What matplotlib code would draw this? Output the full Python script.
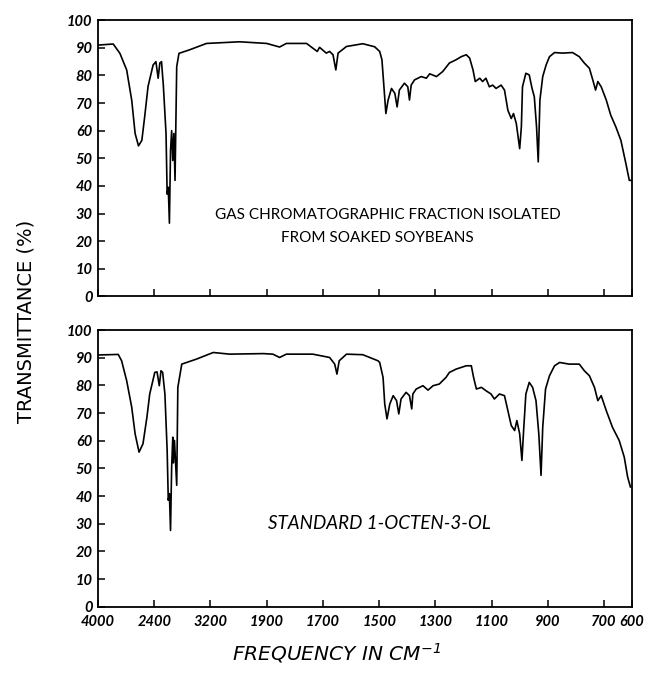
import matplotlib.pyplot as plt

plt.rcParams['mathtext.default'] = 'regular'

# x is in chart position units (one per labelled tick), y is % transmittance
tick_pos = [0, 1, 2, 3, 4, 5, 6, 7, 8, 9, 9.5]
tick_labels = ['4000', '2400', '3200', '1900', '1700', '1500',
               '1300', '1100', '900', '700', '600']
y_ticks = [0, 10, 20, 30, 40, 50, 60, 70, 80, 90, 100]

# top: gas chromatographic fraction
top_x = [0.0, 0.27, 0.39, 0.51, 0.60, 0.66, 0.72, 0.78, 0.83, 0.89, 0.98, 1.03,
         1.07, 1.10, 1.13, 1.15, 1.16, 1.21, 1.23, 1.25, 1.27, 1.29, 1.31, 1.33,
         1.35, 1.37, 1.40, 1.44, 1.63, 1.93, 2.52, 3.00, 3.23, 3.35, 3.71, 3.82,
         3.90, 3.94, 4.06, 4.12, 4.18, 4.23, 4.27, 4.42, 4.71, 4.92, 5.01, 5.05,
         5.09, 5.12, 5.16, 5.22, 5.28, 5.32, 5.36, 5.45, 5.51, 5.54, 5.57, 5.63,
         5.75, 5.84, 5.90, 6.02, 6.13, 6.25, 6.37, 6.46, 6.55, 6.61, 6.67, 6.71,
         6.79, 6.84, 6.90, 6.96, 7.02, 7.08, 7.17, 7.23, 7.29, 7.35, 7.39, 7.44,
         7.50, 7.53, 7.55, 7.61, 7.67, 7.72, 7.76, 7.80, 7.83, 7.86, 7.91, 7.97,
         8.03, 8.12, 8.26, 8.44, 8.56, 8.65, 8.74, 8.80, 8.85, 8.89, 8.95, 9.04,
         9.12, 9.21, 9.30, 9.39, 9.45, 9.49]
top_t = [91.0, 91.4, 88.0, 82.0, 71.0, 59.0, 54.5, 56.5, 65.0, 76.0, 83.8, 85.0,
         79.0, 84.5, 85.0, 79.5, 77.2, 59.0, 37.0, 39.5, 26.5, 52.8, 60.0, 49.2,
         59.0, 42.0, 83.2, 88.0, 89.3, 91.6, 92.2, 91.6, 90.3, 91.6, 91.6, 89.9,
         88.7, 90.2, 88.1, 88.7, 87.5, 82.0, 88.1, 90.5, 91.5, 90.4, 88.7, 85.7,
         74.7, 66.2, 71.1, 75.3, 73.5, 68.6, 74.7, 77.2, 75.9, 71.1, 76.5, 78.4,
         79.6, 79.0, 80.6, 79.6, 81.4, 84.5, 85.7, 86.8, 87.5, 86.3, 82.0, 77.8,
         79.0, 77.8, 79.0, 75.9, 76.5, 75.3, 76.5, 74.7, 67.4, 64.4, 66.2, 62.6,
         53.5, 61.4, 75.9, 80.8, 80.2, 75.3, 72.3, 61.4, 48.7, 71.1, 79.6, 83.8,
         86.8, 88.3, 88.1, 88.3, 86.8, 84.5, 82.6, 78.4, 74.7, 77.8, 75.9, 71.1,
         65.6, 61.4, 56.5, 48.0, 42.0, 42.0]

# bottom: standard 1-octen-3-ol
bot_x = [0.0, 0.36, 0.42, 0.51, 0.60, 0.66, 0.73, 0.80, 0.87, 0.92, 1.01, 1.05,
         1.09, 1.12, 1.15, 1.19, 1.23, 1.25, 1.27, 1.29, 1.31, 1.33, 1.34, 1.36,
         1.40, 1.42, 1.49, 1.75, 2.05, 2.34, 2.94, 3.11, 3.23, 3.35, 3.82, 4.12,
         4.21, 4.25, 4.29, 4.42, 4.71, 4.98, 5.01, 5.07, 5.10, 5.14, 5.19, 5.25,
         5.31, 5.35, 5.39, 5.48, 5.54, 5.58, 5.60, 5.66, 5.78, 5.87, 5.96, 6.07,
         6.19, 6.25, 6.37, 6.46, 6.55, 6.64, 6.68, 6.73, 6.82, 6.90, 6.99, 7.05,
         7.14, 7.23, 7.29, 7.35, 7.41, 7.45, 7.50, 7.54, 7.57, 7.61, 7.67, 7.73,
         7.79, 7.84, 7.88, 7.91, 7.96, 8.03, 8.12, 8.21, 8.38, 8.56, 8.65, 8.74,
         8.83, 8.89, 8.95, 9.04, 9.15, 9.27, 9.36, 9.42, 9.47]
bot_t = [91.0, 91.2, 88.9, 81.7, 72.1, 62.5, 55.9, 58.9, 68.5, 76.9, 84.7, 84.9,
         79.9, 85.3, 84.7, 76.9, 56.5, 38.5, 40.9, 27.6, 50.5, 61.3, 52.0, 60.1,
         43.9, 79.3, 87.7, 89.5, 91.9, 91.3, 91.5, 91.3, 90.1, 91.3, 91.3, 90.1,
         87.7, 84.1, 88.9, 91.3, 91.1, 88.9, 88.3, 82.9, 73.3, 67.9, 73.3, 76.3,
         74.5, 69.7, 75.1, 77.5, 76.3, 71.5, 76.9, 78.7, 79.9, 78.3, 79.9, 80.5,
         82.9, 84.7, 85.9, 86.5, 87.1, 87.1, 82.9, 78.7, 79.3, 78.1, 76.9, 75.1,
         76.9, 76.3, 70.9, 65.5, 63.7, 67.3, 62.5, 52.9, 63.7, 76.9, 81.1, 79.3,
         74.5, 62.5, 47.5, 64.9, 78.7, 83.5, 87.1, 88.3, 87.7, 87.7, 85.3, 83.5,
         79.3, 74.5, 76.3, 70.9, 64.9, 60.1, 54.1, 46.9, 43.3]

fig = plt.figure(figsize=(6.49, 6.75), dpi=100)
ax1 = fig.add_axes([0.151, 0.561, 0.823, 0.409])
ax2 = fig.add_axes([0.151, 0.101, 0.823, 0.410])

tick_font = dict(fontsize=10.5, fontstyle='italic', fontweight='bold',
                 family='Lato')

for ax, x, t in [(ax1, top_x, top_t), (ax2, bot_x, bot_t)]:
    ax.plot(x, t, color='black', lw=1.2)
    ax.set_xlim(0, 9.5)
    ax.set_ylim(0, 100)
    ax.set_xticks(tick_pos)
    ax.set_yticks(y_ticks)
    ax.set_yticklabels([str(v) for v in y_ticks], **tick_font)
    ax.tick_params(direction='in', length=5, width=1.1, pad=4)
    for s in ax.spines.values():
        s.set_linewidth(1.3)

ax1.set_xticklabels([])
ax2.set_xticklabels(tick_labels, **tick_font)
ax2.tick_params(axis='x', pad=6)

ax1.text(5.15, 29.5, 'GAS CHROMATOGRAPHIC FRACTION ISOLATED',
         ha='center', va='center', fontsize=11, family='Lato')
ax1.text(4.97, 21.2, 'FROM SOAKED SOYBEANS',
         ha='center', va='center', fontsize=11, family='Lato')
ax2.text(5.0, 30.2, 'STANDARD 1-OCTEN-3-OL', ha='center', va='center',
         fontsize=13.5, fontstyle='italic', family='Lato')

fig.text(0.04, 0.524, 'TRANSMITTANCE (%)', rotation=90, ha='center',
         va='center', fontsize=14)
fig.text(0.519, 0.033, r'FREQUENCY IN CM$^{-1}$', ha='center', va='center',
         fontsize=14.5, fontstyle='italic')

fig.savefig('out.png', dpi=100, facecolor='white')
